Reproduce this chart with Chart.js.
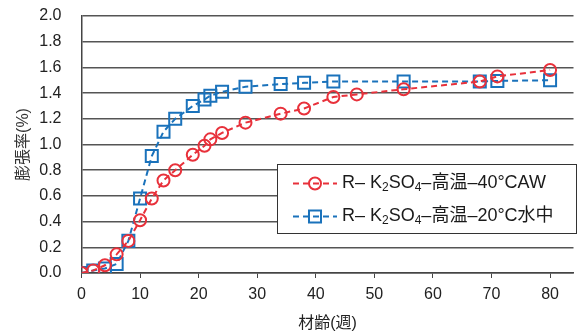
<!DOCTYPE html>
<html><head><meta charset="utf-8">
<script src="https://cdn.jsdelivr.net/npm/chart.js@4/dist/chart.umd.min.js"></script>
<style>html,body{margin:0;padding:0;background:#fff;}#wrap{width:584px;height:334px;}</style>
</head><body><div id="wrap"><canvas id="c" width="584" height="334"></canvas></div>
<script>
const redWeeks = [0,2,4,6,8,10,12,14,16,19,21,22,24,28,34,38,43,47,55,68,71,80];
const redValues = [0,0.02,0.06,0.145,0.25,0.41,0.58,0.72,0.80,0.92,0.99,1.04,1.09,1.17,1.24,1.28,1.37,1.39,1.43,1.49,1.53,1.58];
const blueWeeks = [0,2,4,6,8,10,12,14,16,19,21,22,24,28,34,38,43,55,68,71,80];
const blueValues = [0,0.02,0.035,0.07,0.25,0.58,0.91,1.10,1.20,1.30,1.35,1.38,1.41,1.45,1.47,1.48,1.49,1.49,1.49,1.495,1.50];
const xTicks = [0,10,20,30,40,50,60,70,80];
const yTicks = [0,0.2,0.4,0.6,0.8,1.0,1.2,1.4,1.6,1.8,2.0];
const seriesNames = [["R– K","2","SO","4","–高温–40°CAW"],["R– K","2","SO","4","–高温–20°C水中"]];
const xTitle = "材齢(週)";
const yTitle = "膨張率(%)";

const RED = "#e8313b", BLUE = "#1a72bb";
const FONT = "'Liberation Sans','Noto Sans CJK JP',sans-serif";

const legendPlugin = {
  id: 'boxLegend',
  afterDatasetsDraw(chart) {
    const ctx = chart.ctx;
    ctx.save();
    const bx = 277.5, by = 164.5, bw = 299, bh = 69;
    ctx.fillStyle = '#fff';
    ctx.fillRect(bx, by, bw, bh);
    ctx.strokeStyle = '#333';
    ctx.lineWidth = 1;
    ctx.strokeRect(bx, by, bw, bh);
    const rows = [{y:183.5, color:RED, style:'circle', r:6}, {y:216.5, color:BLUE, style:'rect', r:8.5}];
    rows.forEach((row, i) => {
      ctx.strokeStyle = row.color;
      ctx.lineWidth = 2;
      ctx.setLineDash([6,4]);
      ctx.beginPath(); ctx.moveTo(293, row.y); ctx.lineTo(337, row.y); ctx.stroke();
      ctx.setLineDash([]);
      ctx.fillStyle = 'rgba(0,0,0,0)';
      Chart.helpers.drawPoint(ctx, {pointStyle: row.style, radius: row.r, borderWidth: 2}, 315, row.y);
      ctx.fillStyle = '#1a1a1a';
      ctx.textBaseline = 'middle';
      let x = 342;
      seriesNames[i].forEach((seg, k) => {
        const sub = (k === 1 || k === 3);
        ctx.font = (sub ? '12px ' : '18px ') + FONT;
        ctx.fillText(seg, x, row.y + (sub ? 4 : 0));
        x += ctx.measureText(seg).width;
      });
    });
    ctx.restore();
  }
};

new Chart(document.getElementById('c'), {
  type: 'line',
  data: {
    datasets: [
      {
        data: redWeeks.map((w, i) => ({x: w, y: redValues[i]})),
        borderColor: RED, borderWidth: 2, borderDash: [6,4],
        pointStyle: 'circle', pointRadius: 6, pointBorderWidth: 2,
        pointBorderColor: RED, pointBackgroundColor: 'rgba(0,0,0,0)', fill: false, tension: 0
      },
      {
        data: blueWeeks.map((w, i) => ({x: w, y: blueValues[i]})),
        borderColor: BLUE, borderWidth: 2, borderDash: [6,4],
        pointStyle: 'rect', pointRadius: 8.5, pointBorderWidth: 2,
        pointBorderColor: BLUE, pointBackgroundColor: 'rgba(0,0,0,0)', fill: false, tension: 0
      }
    ]
  },
  options: {
    responsive: false, animation: false, devicePixelRatio: 1,
    layout: {padding: {top: 16, right: 0, bottom: 0, left: 0}},
    plugins: {legend: {display: false}, tooltip: {enabled: false}},
    scales: {
      x: {
        type: 'linear', min: 0, max: 84,
        afterBuildTicks: s => { s.ticks = xTicks.map(v => ({value: v})); },
        afterFit: s => { s.height = 61; },
        grid: {drawOnChartArea: false, drawTicks: true, tickLength: 5, color: '#444', lineWidth: 1},
        border: {display: true, color: '#444', width: 1.5},
        ticks: {font: {family: FONT, size: 16}, color: '#222', padding: 7, maxRotation: 0},
        title: {display: true, text: xTitle, font: {family: FONT, size: 16}, color: '#222', padding: {top: 0, bottom: 1}}
      },
      y: {
        min: 0, max: 2.0,
        afterBuildTicks: s => { s.ticks = yTicks.map(v => ({value: v})); },
        afterFit: s => { s.width = 81.5; },
        grid: {drawTicks: true, tickLength: 18, tickColor: 'rgba(0,0,0,0)', color: '#555', lineWidth: 1.5},
        border: {display: true, color: '#444', width: 1.5},
        ticks: {font: {family: FONT, size: 16}, color: '#222', padding: 2, callback: v => Number(v).toFixed(1)},
        title: {display: true, text: yTitle, font: {family: FONT, size: 16}, color: '#333', padding: {top: 14, bottom: 0}}
      }
    }
  },
  plugins: [legendPlugin]
});
</script>
</body></html>
